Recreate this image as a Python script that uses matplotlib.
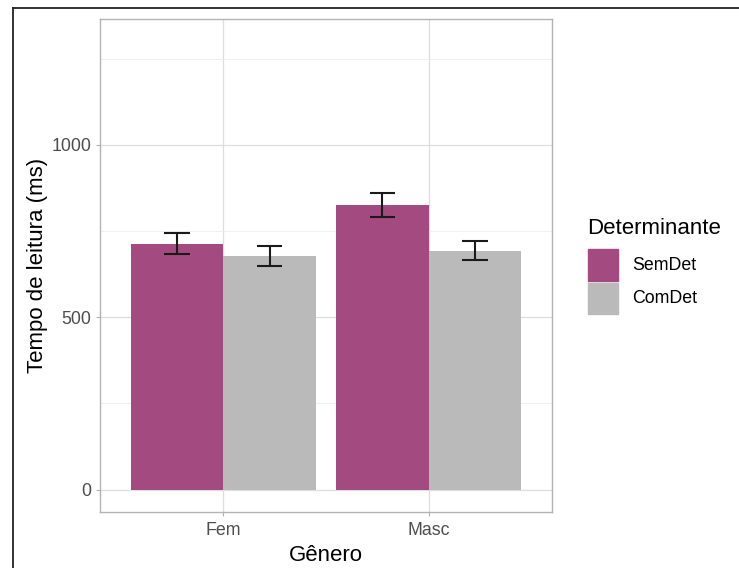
import matplotlib
matplotlib.use("Agg")
import matplotlib.pyplot as plt
from matplotlib.patches import Rectangle
from matplotlib.lines import Line2D
import numpy as np

plt.rcParams['font.family'] = ['Liberation Sans', 'DejaVu Sans']

generos = ["Fem", "Masc"]
determinantes = ["SemDet", "ComDet"]
media = {"SemDet": [713, 826], "ComDet": [677, 692]}
err_low = {"SemDet": [682, 791], "ComDet": [648, 666]}
err_high = {"SemDet": [744, 861], "ComDet": [707, 720]}
cores = {"SemDet": "#A34A80", "ComDet": "#BABABA"}
y_ticks = [0, 500, 1000]

W, H = 739, 568
fig = plt.figure(figsize=(W / 100, H / 100), dpi=100)
ax = fig.add_axes([100 / W, (H - 512) / H, 452 / W, (512 - 19) / H])

x = np.arange(1, len(generos) + 1)
bw = 0.45
for i, d in enumerate(determinantes):
    xs = x + (i - 0.5) * bw
    ax.bar(xs, media[d], width=bw, color=cores[d], edgecolor='none', zorder=2)
    lo = np.array(err_low[d]); hi = np.array(err_high[d])
    ax.vlines(xs, lo, hi, color='#1a1a1a', lw=1.5, zorder=3)
    ax.hlines(lo, xs - 0.0625, xs + 0.0625, color='#1a1a1a', lw=1.5, zorder=3)
    ax.hlines(hi, xs - 0.0625, xs + 0.0625, color='#1a1a1a', lw=1.5, zorder=3)

ax.set_xlim(0.4, 2.6)
ax.set_ylim(-65, 1365)
ax.set_xticks(x)
ax.set_xticklabels(generos)
ax.set_yticks(y_ticks)
ax.set_yticks([250, 750, 1250], minor=True)
ax.grid(True, which='major', color='#DEDEDE', lw=0.9, zorder=0)
ax.grid(True, which='minor', axis='y', color='#EDEDED', lw=0.6, zorder=0)
ax.set_axisbelow(True)
for s in ax.spines.values():
    s.set_color('#B3B3B3'); s.set_linewidth(1.0)
ax.tick_params(axis='both', which='major', length=3, color='#B3B3B3',
               labelsize=12.8, labelcolor='#4D4D4D', pad=3)
ax.tick_params(axis='x', which='major', pad=4.5)
ax.tick_params(axis='both', which='minor', length=0)
ax.set_xlabel("Gênero", fontsize=16, color='black', labelpad=4)
ax.set_ylabel("Tempo de leitura (ms)", fontsize=16, color='black', labelpad=3)

# legend
fig.text(587 / W, 1 - 228 / H, "Determinante", fontsize=16, ha='left', va='center')
keys_y = [(249, 281), (283, 314)]
for d, (y0, y1) in zip(determinantes, keys_y):
    fig.patches.append(Rectangle((588 / W, 1 - y1 / H), 30 / W, (y1 - y0) / H,
                                 transform=fig.transFigure, color=cores[d]))
    fig.text(632 / W, 1 - (y0 + y1) / 2 / H, d, fontsize=12.8, ha='left', va='center')

# screenshot frame
fig.add_artist(Line2D([13 / W, 13 / W], [0, 1 - 8 / H], transform=fig.transFigure, color='#222222', lw=1.3))
fig.add_artist(Line2D([13 / W, 1], [1 - 8 / H, 1 - 8 / H], transform=fig.transFigure, color='#222222', lw=1.3))

fig.savefig("out.png", dpi=100)
